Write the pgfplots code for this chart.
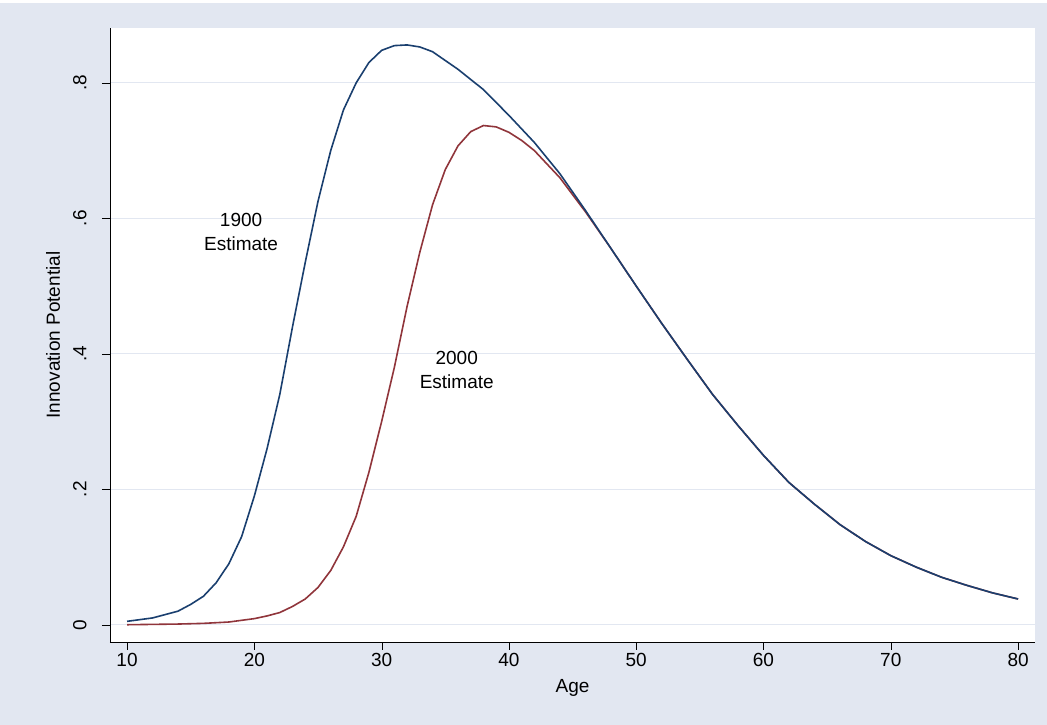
\documentclass[border=0pt]{standalone}
\usepackage{pgfplots}
\pgfplotsset{compat=1.18}
\usepackage{fontspec}
\setmainfont{Liberation Sans}
\definecolor{bgc}{HTML}{E2E7F1}
\definecolor{c19}{HTML}{1A3F6F}
\definecolor{c20}{HTML}{90353B}
\definecolor{gridc}{HTML}{E2E7F1}
\begin{document}
\begin{tikzpicture}[x=1pt,y=1pt]
\fill[white] (0,0) rectangle (1047,725);
\fill[bgc] (0,0) rectangle (1047,722);
\begin{axis}[at={(110pt,83pt)},anchor=south west,scale only axis,
 width=925pt,height=614pt,
 xmin=8.66,xmax=81.33,ymin=-0.0255,ymax=0.881,
 axis background/.style={fill=white},
 axis x line*=bottom, axis y line*=left,
 axis line style={black,-},
 xtick={10,20,...,80}, ytick={0,0.2,0.4,0.6,0.8},
 yticklabels={0,.2,.4,.6,.8},
 yticklabel style={rotate=90,anchor=south},
 yticklabel shift=12pt,
 tick align=outside, major tick length=8pt, tick style={black},
 ymajorgrids, grid style={gridc,line width=1.2pt},
 ticklabel style={font=\fontsize{19}{19}\selectfont},
 /pgf/number format/assume math mode=true,
 xlabel={Age}, ylabel={Innovation Potential},
 label style={font=\fontsize{19}{19}\selectfont},
 xlabel style={yshift=-6pt}, ylabel style={yshift=6pt},
 every axis plot/.style={line width=1.6pt},
 clip=false]
\addplot[c20] coordinates {(10,0) (14,0.001) (16,0.002) (18,0.004) (20,0.009) (21,0.013) (22,0.018) (23,0.027) (24,0.038) (25,0.055) (26,0.08) (27,0.115) (28,0.16) (29,0.225) (30,0.3) (31,0.38) (32,0.47) (33,0.55) (34,0.62) (35,0.672) (36,0.707) (37,0.728) (38,0.737) (39,0.735) (40,0.727) (41,0.715) (42,0.7) (44,0.66) (46,0.61) (48,0.556) (50,0.5) (52,0.445) (54,0.392) (56,0.34) (58,0.294) (60,0.25) (62,0.21) (64,0.178) (66,0.148) (68,0.123) (70,0.102) (72,0.085) (74,0.07) (76,0.058) (78,0.047) (80,0.038)};
\addplot[c19] coordinates {(10,0.005) (12,0.01) (14,0.02) (15,0.03) (16,0.042) (17,0.062) (18,0.09) (19,0.13) (20,0.19) (21,0.26) (22,0.34) (23,0.44) (24,0.535) (25,0.625) (26,0.70) (27,0.76) (28,0.80) (29,0.83) (30,0.848) (31,0.855) (32,0.856) (33,0.853) (34,0.846) (36,0.82) (38,0.79) (40,0.752) (42,0.712) (44,0.666) (46,0.612) (48,0.556) (50,0.5) (52,0.445) (54,0.392) (56,0.34) (58,0.294) (60,0.25) (62,0.21) (64,0.178) (66,0.148) (68,0.123) (70,0.102) (72,0.085) (74,0.07) (76,0.058) (78,0.047) (80,0.038)};
\node[align=center,font=\fontsize{19}{24}\selectfont] at (axis cs:18.96,0.58) {1900\\Estimate};
\node[align=center,font=\fontsize{19}{24}\selectfont] at (axis cs:35.9,0.376) {2000\\Estimate};
\end{axis}
\end{tikzpicture}
\end{document}
